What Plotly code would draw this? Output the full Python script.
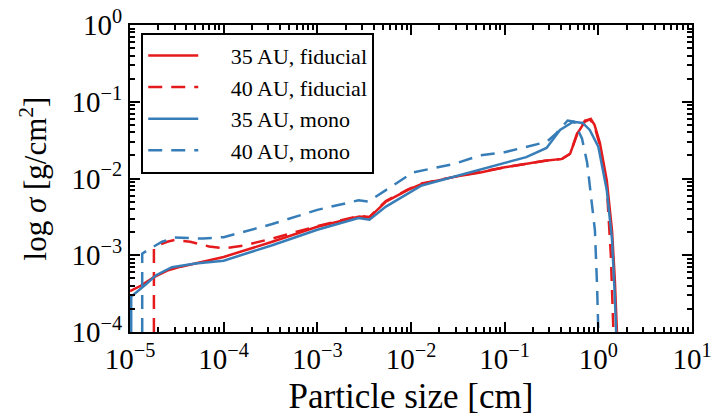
import plotly.graph_objects as go

# 35 AU, fiducial (red solid)
x_35_fid = [1.0e-5, 1.3e-5, 1.8e-5, 2.5e-5, 3.5e-5, 5e-5, 1e-4, 3.3e-4, 1e-3, 2.8e-3, 3.6e-3,
            5.4e-3, 9.3e-3, 1.3e-2, 2.9e-2, 5.5e-2, 1e-1, 2.7e-1, 4.1e-1, 5.0e-1, 6.0e-1, 7.2e-1,
            8.3e-1, 9.1e-1, 1.04, 1.23, 1.40, 1.50, 1.58]
y_35_fid = [3.4e-4, 4.0e-4, 5.2e-4, 6.3e-4, 7.1e-4, 7.8e-4, 9.5e-4, 1.5e-3, 2.35e-3, 3.2e-3, 3.1e-3,
            5.0e-3, 7.1e-3, 8.5e-3, 1.05e-2, 1.2e-2, 1.4e-2, 1.7e-2, 1.8e-2, 2.1e-2, 3.9e-2, 5.5e-2,
            6.0e-2, 5.0e-2, 2.9e-2, 9.5e-3, 2.1e-3, 4.8e-4, 1.0e-4]

# 40 AU, fiducial (red dashed)
x_40_fid = [1.8e-5, 1.8e-5, 2.0e-5, 2.5e-5, 3e-5, 4.4e-5, 7e-5, 1e-4, 1.7e-4, 3.3e-4, 1e-3,
            2.8e-3, 3.6e-3, 5.4e-3, 9.3e-3, 1.3e-2, 2.9e-2, 1e-1, 2.7e-1, 4.1e-1, 5.0e-1, 6.0e-1,
            7.2e-1, 8.1e-1, 9.0e-1, 1.04, 1.23, 1.36, 1.45]
y_40_fid = [1.0e-4, 1.23e-3, 1.35e-3, 1.5e-3, 1.58e-3, 1.5e-3, 1.3e-3, 1.23e-3, 1.35e-3, 1.65e-3, 2.4e-3,
            3.25e-3, 3.15e-3, 5.1e-3, 7.2e-3, 8.6e-3, 1.05e-2, 1.4e-2, 1.7e-2, 1.8e-2, 2.1e-2, 4.0e-2,
            5.7e-2, 5.9e-2, 5.0e-2, 2.7e-2, 8.0e-3, 1.0e-3, 1.0e-4]

# 35 AU, mono (blue solid)
x_35_mono = [1.03e-5, 1.03e-5, 1.45e-5, 1.9e-5, 2.8e-5, 5e-5, 1e-4, 3.3e-4, 1e-3, 2.75e-3, 3.6e-3,
             5.4e-3, 1.3e-2, 2.9e-2, 5.5e-2, 1e-1, 1.7e-1, 2.8e-1, 3.9e-1, 5.4e-1, 6.8e-1, 8.1e-1,
             1.0, 1.23, 1.40, 1.50, 1.55]
y_35_mono = [1.0e-4, 2.9e-4, 4.1e-4, 5.5e-4, 7.0e-4, 7.8e-4, 8.5e-4, 1.35e-3, 2.15e-3, 3.05e-3, 2.9e-3,
             4.3e-3, 8.1e-3, 1.05e-2, 1.3e-2, 1.6e-2, 1.9e-2, 2.5e-2, 4.3e-2, 5.5e-2, 5.3e-2, 4.3e-2,
             2.6e-2, 7.1e-3, 1.6e-3, 2.9e-4, 1.0e-4]

# 40 AU, mono (blue dashed)
x_40_mono = [1.35e-5, 1.35e-5, 1.6e-5, 2.2e-5, 3e-5, 6e-5, 1e-4, 3.3e-4, 1e-3, 2.75e-3, 3.5e-3,
             5.4e-3, 1.05e-2, 2.9e-2, 5.5e-2, 1e-1, 2.8e-1, 3.5e-1, 4.7e-1, 5.5e-1, 6.7e-1, 7.6e-1,
             8.5e-1, 9.2e-1, 9.7e-1, 1.0]
y_40_mono = [1.0e-4, 1.05e-3, 1.2e-3, 1.5e-3, 1.7e-3, 1.65e-3, 1.72e-3, 2.55e-3, 3.9e-3, 5.2e-3, 5.0e-3,
             7.1e-3, 1.2e-2, 1.55e-2, 2.0e-2, 2.2e-2, 3.0e-2, 3.8e-2, 5.7e-2, 5.5e-2, 3.3e-2, 1.6e-2,
             5.2e-3, 2.1e-3, 3.9e-4, 1.0e-4]

series_names = ["35 AU, fiducial", "40 AU, fiducial", "35 AU, mono", "40 AU, mono"]
series_x = [x_35_fid, x_40_fid, x_35_mono, x_40_mono]
series_y = [y_35_fid, y_40_fid, y_35_mono, y_40_mono]
series_color = ["#e41a1c", "#e41a1c", "#377eb8", "#377eb8"]
series_dash = ["solid", "14px,9px", "solid", "14px,9px"]

x_decades = [-5, -4, -3, -2, -1, 0, 1]
y_decades = [-4, -3, -2, -1, 0]
x_tickvals = [10.0 ** d for d in x_decades]
x_ticktext = ["10<sup>%s</sup>" % str(d).replace("-", "−") for d in x_decades]
y_tickvals = [10.0 ** d for d in y_decades]
y_ticktext = ["10<sup>%s</sup>" % str(d).replace("-", "−") for d in y_decades]

FONT = "Liberation Serif"

fig = go.Figure()
for name, xs, ys, c, d in zip(series_names, series_x, series_y, series_color, series_dash):
    fig.add_trace(go.Scatter(x=xs, y=ys, mode="lines",
                             name="\u00a0\u00a0\u00a0\u00a0\u00a0" + name,
                             line=dict(color=c, width=2.5, dash=d)))

axis_common = dict(
    type="log", automargin=False,
    showgrid=True, gridcolor="rgba(0,0,0,0)",
    showline=True, linecolor="black", linewidth=2, mirror="allticks",
    ticks="inside", ticklen=10, tickwidth=2, tickcolor="black",
    tickfont=dict(family=FONT, size=29, color="black"),
    minor=dict(ticks="inside", ticklen=5, tickwidth=1.5, tickcolor="black", dtick="D1",
               showgrid=True, gridcolor="rgba(0,0,0,0)"),
)

fig.update_layout(
    template="none",
    xaxis=dict(range=[x_decades[0], x_decades[-1]], tickmode="array",
               tickvals=x_tickvals, ticktext=x_ticktext,
               title=dict(text="Particle size [cm]", font=dict(family=FONT, size=35, color="black"),
                          standoff=10),
               **axis_common),
    yaxis=dict(range=[y_decades[0], y_decades[-1]], tickmode="array",
               tickvals=y_tickvals, ticktext=y_ticktext,
               title=dict(text="log <i>σ</i> [g/cm<sup>2</sup>]",
                          font=dict(family=FONT, size=31, color="black"), standoff=16),
               **axis_common),
    width=713, height=417,
    margin=dict(l=130, r=21, t=25, b=85),
    font=dict(family=FONT, color="black"),
    legend=dict(x=0.02, y=0.975, xanchor="left", yanchor="top",
                bgcolor="white", bordercolor="black", borderwidth=2,
                font=dict(family=FONT, size=22, color="black"),
                itemwidth=50, tracegroupgap=0),
    showlegend=True,
)

fig.write_html("out.html")
